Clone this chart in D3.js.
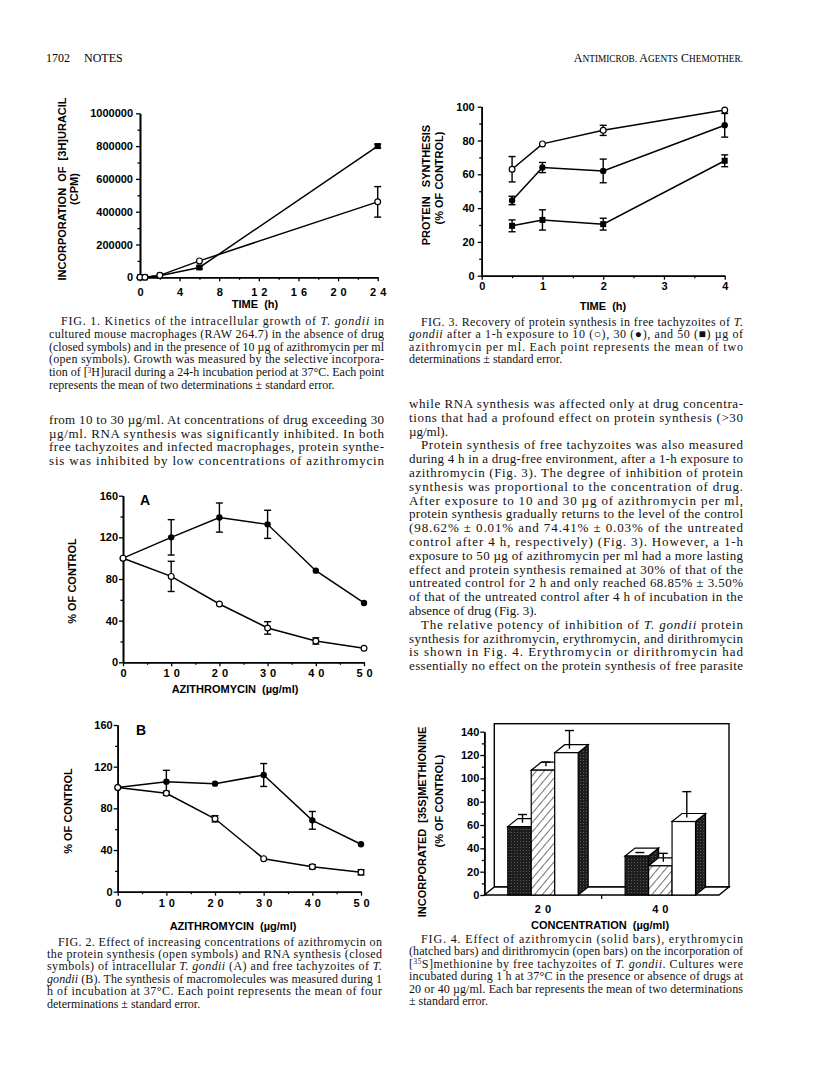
<!DOCTYPE html>
<html><head><meta charset="utf-8">
<script src="https://cdn.jsdelivr.net/npm/d3@7/dist/d3.min.js"></script>
<style>body{margin:0;background:#fff}svg{display:block}</style>
</head><body>
<svg id="page" width="816" height="1089"></svg>
<script>
// ---------------- DATA ----------------
// Fig 1
const fig1Time = [0, 0.5, 2, 6, 24];
const fig1Closed = [0, 0, 10000, 60000, 800000];
const fig1ClosedErr = [0, 0, 0, 8000, 12000];
const fig1Open = [0, 0, 12000, 100000, 460000];
const fig1OpenErr = [0, 0, 0, 0, 93000];
const fig1XTicks = [0, 4, 8, 12, 16, 20, 24];
const fig1XMinor = [2, 6, 10, 14, 18, 22];
const fig1YTicks = [0, 200000, 400000, 600000, 800000, 1000000];
const fig1YMinor = [100000, 300000, 500000, 700000, 900000];
// Fig 3
const fig3Time = [0.5, 1, 2, 4];
const fig3Open10 = [63, 78, 86, 98];
const fig3Open10Err = [7.5, 0, 3, 0];
const fig3Closed30 = [44.5, 64, 62, 89];
const fig3Closed30Err = [2.5, 3, 7, 7];
const fig3Square50 = [29.5, 33, 30.5, 68];
const fig3Square50Err = [3.5, 6, 3.5, 3.5];
const fig3XTicks = [0, 1, 2, 3, 4];
const fig3XMinor = [0.5, 1.5, 2.5, 3.5];
const fig3YTicks = [0, 20, 40, 60, 80, 100];
const fig3YMinor = [10, 30, 50, 70, 90];
// Fig 2
const fig2Conc = [0, 10, 20, 30, 40, 50];
const fig2ARna = [100, 120, 139, 132.5, 88, 57];
const fig2ARnaErr = [0, 17, 14, 13.5, 0, 0];
const fig2AProt = [100, 82.5, 56, 33, 20.5, 13.5];
const fig2AProtErr = [0, 14.5, 0, 6, 3, 0];
const fig2BRna = [100, 105.5, 103.7, 112, 68.5, 45.5];
const fig2BRnaErr = [0, 11, 0, 11, 8.5, 0];
const fig2BProt = [100, 94.5, 70, 31.7, 24, 18.6];
const fig2BProtErr = [0, 2, 3, 0, 2, 2.5];
const fig2XTicks = [0, 10, 20, 30, 40, 50];
const fig2XMinor = [5, 15, 25, 35, 45];
const fig2YTicks = [0, 40, 80, 120, 160];
const fig2YMinor = [20, 60, 100, 140];
// Fig 4
const fig4Conc = ["20", "40"];
const fig4Drugs = ["azithromycin", "erythromycin", "dirithromycin"];
const fig4Azithro = [58.6, 33.4];
const fig4AzithroErr = [10.4, 3];
const fig4Erythro = [107, 25];
const fig4ErythroErr = [7, 10.7];
const fig4Dirithro = [122, 63];
const fig4DirithroErr = [19, 25.6];
const fig4YTicks = [0, 20, 40, 60, 80, 100, 120, 140];
const fig4YMinor = [10, 30, 50, 70, 90, 110, 130];

// ---------------- TEXT ----------------
const fig1Caption = [
 {t:"FIG. 1. Kinetics of the intracellular growth of *T. gondii* in", ind:12},
 {t:"cultured mouse macrophages (RAW 264.7) in the absence of drug"},
 {t:"(closed symbols) and in the presence of 10 µg of azithromycin per ml"},
 {t:"(open symbols). Growth was measured by the selective incorpora-"},
 {t:"tion of [^3^H]uracil during a 24-h incubation period at 37°C. Each point"},
 {t:"represents the mean of two determinations ± standard error.", last:true}
];
const leftBody = [
 {t:"from 10 to 30 µg/ml. At concentrations of drug exceeding 30"},
 {t:"µg/ml. RNA synthesis was significantly inhibited. In both"},
 {t:"free tachyzoites and infected macrophages, protein synthe-"},
 {t:"sis was inhibited by low concentrations of azithromycin"}
];
const fig2Caption = [
 {t:"FIG. 2. Effect of increasing concentrations of azithromycin on", ind:11},
 {t:"the protein synthesis (open symbols) and RNA synthesis (closed"},
 {t:"symbols) of intracellular *T. gondii* (A) and free tachyzoites of *T.*"},
 {t:"*gondii* (B). The synthesis of macromolecules was measured during 1"},
 {t:"h of incubation at 37°C. Each point represents the mean of four"},
 {t:"determinations ± standard error.", last:true}
];
const fig3Caption = [
 {t:"FIG. 3. Recovery of protein synthesis in free tachyzoites of *T.*", ind:12},
 {t:"*gondii* after a 1-h exposure to 10 (○), 30 (●), and 50 (■) µg of"},
 {t:"azithromycin per ml. Each point represents the mean of two"},
 {t:"determinations ± standard error.", last:true}
];
const rightBody = [
 {t:"while RNA synthesis was affected only at drug concentra-"},
 {t:"tions that had a profound effect on protein synthesis (>30"},
 {t:"µg/ml).", last:true},
 {t:"Protein synthesis of free tachyzoites was also measured", ind:12},
 {t:"during 4 h in a drug-free environment, after a 1-h exposure to"},
 {t:"azithromycin (Fig. 3). The degree of inhibition of protein"},
 {t:"synthesis was proportional to the concentration of drug."},
 {t:"After exposure to 10 and 30 µg of azithromycin per ml,"},
 {t:"protein synthesis gradually returns to the level of the control"},
 {t:"(98.62% ± 0.01% and 74.41% ± 0.03% of the untreated"},
 {t:"control after 4 h, respectively) (Fig. 3). However, a 1-h"},
 {t:"exposure to 50 µg of azithromycin per ml had a more lasting"},
 {t:"effect and protein synthesis remained at 30% of that of the"},
 {t:"untreated control for 2 h and only reached 68.85% ± 3.50%"},
 {t:"of that of the untreated control after 4 h of incubation in the"},
 {t:"absence of drug (Fig. 3).", last:true},
 {t:"The relative potency of inhibition of *T. gondii* protein", ind:12},
 {t:"synthesis for azithromycin, erythromycin, and dirithromycin"},
 {t:"is shown in Fig. 4. Erythromycin or dirithromycin had"},
 {t:"essentially no effect on the protein synthesis of free parasite"}
];
const fig4Caption = [
 {t:"FIG. 4. Effect of azithromycin (solid bars), erythromycin", ind:12},
 {t:"(hatched bars) and dirithromycin (open bars) on the incorporation of"},
 {t:"[^35^S]methionine by free tachyzoites of *T. gondii*. Cultures were"},
 {t:"incubated during 1 h at 37°C in the presence or absence of drugs at"},
 {t:"20 or 40 µg/ml. Each bar represents the mean of two determinations"},
 {t:"± standard error.", last:true}
];

// ---------------- DRAWING ----------------
const svg = d3.select("#page");
const SANS = "'Liberation Sans', Arial, Helvetica, sans-serif";
const SERIF = "'Liberation Serif', 'Times New Roman', serif";

function addLine(x, y, str, size, width) {
  const t = svg.append("text").attr("x", x).attr("y", y)
    .attr("font-family", SERIF).attr("font-size", size).attr("fill", "#111");
  if (width) t.attr("textLength", width).attr("lengthAdjust", "spacing");
  const parts = str.split(/(\*[^*]+\*|\^[^^]+\^)/g).filter(s => s.length);
  let back = 0;
  parts.forEach(p => {
    let ts;
    if (p[0] === "*") ts = t.append("tspan").attr("font-style", "italic").text(p.slice(1, -1));
    else if (p[0] === "^") { t.append("tspan").attr("font-size", size * 0.6).attr("dy", -size * 0.3).text(p.slice(1, -1)); back = size * 0.3; return; }
    else ts = t.append("tspan").text(p);
    if (back) { ts.attr("dy", back); back = 0; }
  });
}
function para(lines, x0, x1, y0, lh, size) {
  lines.forEach((l, i) => {
    const ind = l.ind || 0;
    addLine(x0 + ind, y0 + i * lh, l.t, size, l.last ? null : (x1 - x0 - ind));
  });
}

// header
svg.append("text").attr("x", 46).attr("y", 62).attr("font-family", SERIF).attr("font-size", 12).text("1702");
svg.append("text").attr("x", 84).attr("y", 62).attr("font-family", SERIF).attr("font-size", 12).text("NOTES");
(function(){
  const t = svg.append("text").attr("x", 743).attr("y", 62).attr("text-anchor", "end").attr("font-family", SERIF).attr("font-size", 12);
  const words = [["A","NTIMICROB."],["A","GENTS"],["C","HEMOTHER."]];
  words.forEach((w, i) => {
    t.append("tspan").attr("font-size", 12).text((i ? " " : "") + w[0]);
    t.append("tspan").attr("font-size", 9.3).text(w[1]);
  });
})();

// captions & body
para(fig1Caption, 49, 384, 325, 12.8, 12);
para(leftBody, 49, 384, 424, 13.6, 13);
para(fig2Caption, 47, 382, 945.5, 12.4, 12);
para(fig3Caption, 409, 743, 325.5, 12.6, 12);
para(rightBody, 409, 743, 408, 13.8, 13);
para(fig4Caption, 409, 743, 943, 12.4, 12);

// axis helpers
function styleAxis(g) {
  g.selectAll(".domain").attr("stroke", "#000").attr("stroke-width", 1.6);
  g.selectAll(".tick line").attr("stroke", "#000").attr("stroke-width", 1.3);
  g.selectAll("text").attr("font-family", SANS).attr("font-weight", "bold")
    .attr("font-size", 11).attr("fill", "#000");
}
function spaced(g) {
  g.selectAll(".tick text").each(function(d) {
    if (+d >= 10) d3.select(this).style("letter-spacing", "4px").attr("dx", 2);
  });
}
function axes(c) {
  const g = svg.append("g");
  const y0 = c.y.range()[0], x0 = c.x.range()[0];
  g.append("g").attr("transform", `translate(0,${y0})`)
    .call(d3.axisBottom(c.x).tickValues(c.xMinor).tickSize(2.5).tickFormat("").tickSizeOuter(0)).call(styleAxis);
  const xa = g.append("g").attr("transform", `translate(0,${y0})`)
    .call(d3.axisBottom(c.x).tickValues(c.xMajor).tickSize(4).tickPadding(c.xPad).tickSizeOuter(0).tickFormat(d3.format("d"))).call(styleAxis);
  if (c.xSpaced) spaced(xa);
  g.append("g").attr("transform", `translate(${x0},0)`)
    .call(d3.axisLeft(c.y).tickValues(c.yMinor).tickSize(2.5).tickFormat("").tickSizeOuter(0)).call(styleAxis);
  g.append("g").attr("transform", `translate(${x0},0)`)
    .call(d3.axisLeft(c.y).tickValues(c.yMajor).tickSize(4).tickPadding(c.yPad).tickSizeOuter(0).tickFormat(d3.format("d"))).call(styleAxis);
}
function boldText(x, y, s, opts = {}) {
  const t = svg.append("text").attr("x", x).attr("y", y).attr("font-family", SANS)
    .attr("font-weight", "bold").attr("font-size", opts.size || 11).attr("fill", "#000")
    .attr("text-anchor", opts.anchor || "middle").style("white-space", "pre").text(s);
  if (opts.rot) t.attr("transform", `rotate(-90,${x},${y})`).attr("dominant-baseline", "central");
  return t;
}
function series(x, y, xs, ys, errs, marker) {
  const g = svg.append("g");
  const pts = xs.map((d, i) => [d, ys[i], errs ? errs[i] : 0]);
  g.append("path").datum(pts).attr("fill", "none").attr("stroke", "#000").attr("stroke-width", 1.5)
    .attr("d", d3.line().x(d => x(d[0])).y(d => y(d[1])));
  return {g, pts, x, y, marker};
}
function finish(s) {
  const {g, pts, x, y, marker} = s;
  pts.filter(d => d[2] > 0).forEach(d => {
    const cx = x(d[0]), t = y(d[1] + d[2]), b = y(Math.max(0, d[1] - d[2]));
    g.append("line").attr("x1", cx).attr("x2", cx).attr("y1", t).attr("y2", b).attr("stroke", "#000").attr("stroke-width", 1.4);
    [t, b].forEach(yy => g.append("line").attr("x1", cx - 3.5).attr("x2", cx + 3.5).attr("y1", yy).attr("y2", yy).attr("stroke", "#000").attr("stroke-width", 1.4));
  });
  pts.forEach(d => {
    const cx = x(d[0]), cy = y(d[1]);
    if (marker === "open") g.append("circle").attr("cx", cx).attr("cy", cy).attr("r", 2.9).attr("fill", "#fff").attr("stroke", "#000").attr("stroke-width", 1.2);
    else if (marker === "dot") g.append("circle").attr("cx", cx).attr("cy", cy).attr("r", 3.2).attr("fill", "#000");
    else g.append("rect").attr("x", cx - 3).attr("y", cy - 3).attr("width", 6).attr("height", 6).attr("fill", "#000");
  });
}

// ---- Fig 1 ----
{
  const x = d3.scaleLinear().domain([0, 24]).range([140, 377.7]);
  const y = d3.scaleLinear().domain([0, 1000000]).range([277.3, 113.3]);
  axes({x, y, xMajor: fig1XTicks, xMinor: fig1XMinor, yMajor: fig1YTicks, yMinor: fig1YMinor, xPad: 7, yPad: 3, xSpaced: true});
  const a = series(x, y, fig1Time, fig1Closed, fig1ClosedErr, "square");
  const b = series(x, y, fig1Time, fig1Open, fig1OpenErr, "open");
  finish(a); finish(b);
  boldText(255, 308, "TIME  (h)");
  boldText(62, 189, "INCORPORATION  OF  [3H]URACIL", {rot: true});
  boldText(73.5, 189, "(CPM)", {rot: true});
}
// ---- Fig 3 ----
{
  const x = d3.scaleLinear().domain([0, 4]).range([481.7, 724.7]);
  const y = d3.scaleLinear().domain([0, 100]).range([275.7, 106.7]);
  axes({x, y, xMajor: fig3XTicks, xMinor: fig3XMinor, yMajor: fig3YTicks, yMinor: fig3YMinor, xPad: 2.5, yPad: 3});
  const s1 = series(x, y, fig3Time, fig3Square50, fig3Square50Err, "square");
  const s2 = series(x, y, fig3Time, fig3Closed30, fig3Closed30Err, "dot");
  const s3 = series(x, y, fig3Time, fig3Open10, fig3Open10Err, "open");
  finish(s1); finish(s2); finish(s3);
  boldText(603, 309.5, "TIME  (h)");
  boldText(426, 185, "PROTEIN   SYNTHESIS", {rot: true});
  boldText(438.5, 178, "(% OF CONTROL)", {rot: true});
}
// ---- Fig 2A ----
{
  const x = d3.scaleLinear().domain([0, 50]).range([123, 364]);
  const y = d3.scaleLinear().domain([0, 160]).range([662.3, 495.7]);
  axes({x, y, xMajor: fig2XTicks, xMinor: fig2XMinor, yMajor: fig2YTicks, yMinor: fig2YMinor, xPad: 2.5, yPad: 1, xSpaced: true});
  const r = series(x, y, fig2Conc, fig2ARna, fig2ARnaErr, "dot");
  const p = series(x, y, fig2Conc, fig2AProt, fig2AProtErr, "open");
  finish(r); finish(p);
  boldText(140, 505, "A", {anchor: "start", size: 14});
  boldText(235, 693, "AZITHROMYCIN  (µg/ml)");
  boldText(72, 581, "% OF CONTROL", {rot: true});
}
// ---- Fig 2B ----
{
  const x = d3.scaleLinear().domain([0, 50]).range([117.7, 361]);
  const y = d3.scaleLinear().domain([0, 160]).range([891.7, 725]);
  axes({x, y, xMajor: fig2XTicks, xMinor: fig2XMinor, yMajor: fig2YTicks, yMinor: fig2YMinor, xPad: 4, yPad: 1, xSpaced: true});
  const r = series(x, y, fig2Conc, fig2BRna, fig2BRnaErr, "dot");
  const p = series(x, y, fig2Conc, fig2BProt, fig2BProtErr, "open");
  finish(r); finish(p);
  boldText(136, 735, "B", {anchor: "start", size: 14});
  boldText(233, 930, "AZITHROMYCIN  (µg/ml)");
  boldText(68, 811, "% OF CONTROL", {rot: true});
}
// ---- Fig 4 (pseudo-3D bars) ----
{
  const DX = 10, DY = -8;
  const x0 = 484.3, x1 = 719;
  const y = d3.scaleLinear().domain([0, 140]).range([895, 731.7]);
  const xg = d3.scaleBand().domain(fig4Conc).range([x0, x1]).paddingInner(0.4).paddingOuter(0.2);
  const xs = d3.scaleBand().domain(fig4Drugs).range([0, xg.bandwidth()]);
  const defs = svg.append("defs");
  const hp = defs.append("pattern").attr("id", "hatch").attr("patternUnits", "userSpaceOnUse")
    .attr("width", 6).attr("height", 6).attr("patternTransform", "rotate(40)");
  hp.append("rect").attr("width", 6).attr("height", 6).attr("fill", "#fff");
  hp.append("line").attr("x1", 0).attr("y1", 0).attr("x2", 0).attr("y2", 6).attr("stroke", "#000").attr("stroke-width", 1.1);
  const sp = defs.append("pattern").attr("id", "stip").attr("patternUnits", "userSpaceOnUse").attr("width", 3).attr("height", 3);
  sp.append("rect").attr("width", 3).attr("height", 3).attr("fill", "#1e1e1e");
  sp.append("rect").attr("x", 1).attr("y", 1).attr("width", 1).attr("height", 1).attr("fill", "#5a5a5a");

  const g = svg.append("g");
  const yb = y(0), yt = y(140);
  // back wall and floor
  g.append("rect").attr("x", x0 + DX).attr("y", yt + DY).attr("width", x1 - x0).attr("height", yb - yt)
    .attr("fill", "#fff").attr("stroke", "#000").attr("stroke-width", 1.4);
  g.append("path").attr("d", `M${x0},${yb}L${x0 + DX},${yb + DY}L${x1 + DX},${yb + DY}L${x1},${yb}Z`)
    .attr("fill", "#fff").attr("stroke", "#000").attr("stroke-width", 1.4);

  const vals = {azithromycin: fig4Azithro, erythromycin: fig4Erythro, dirithromycin: fig4Dirithro};
  const errs = {azithromycin: fig4AzithroErr, erythromycin: fig4ErythroErr, dirithromycin: fig4DirithroErr};
  const fills = {azithromycin: "url(#stip)", erythromycin: "url(#hatch)", dirithromycin: "#fff"};
  const errMarks = [];
  fig4Conc.forEach((c, ci) => {
    fig4Drugs.forEach(dr => {
      const v = vals[dr][ci];
      const bx = xg(c) + xs(dr), w = xs.bandwidth(), ty = y(v);
      g.append("path").attr("d", `M${bx + w},${ty}L${bx + w + DX},${ty + DY}L${bx + w + DX},${yb + DY}L${bx + w},${yb}Z`)
        .attr("fill", "url(#stip)").attr("stroke", "#000").attr("stroke-width", 1.2);
      g.append("path").attr("d", `M${bx},${ty}L${bx + DX},${ty + DY}L${bx + w + DX},${ty + DY}L${bx + w},${ty}Z`)
        .attr("fill", "#fff").attr("stroke", "#000").attr("stroke-width", 1.2);
      g.append("rect").attr("x", bx).attr("y", ty).attr("width", w).attr("height", yb - ty)
        .attr("fill", fills[dr]).attr("stroke", "#000").attr("stroke-width", 1.2);
      errMarks.push([bx + w / 2 + 3, v, errs[dr][ci]]);
    });
  });
  errMarks.forEach(([cx, v, e]) => {
    const t = y(v + e), b = y(v) + DY / 2;
    g.append("line").attr("x1", cx).attr("x2", cx).attr("y1", t).attr("y2", b).attr("stroke", "#000").attr("stroke-width", 1.4);
    g.append("line").attr("x1", cx - 4.5).attr("x2", cx + 4.5).attr("y1", t).attr("y2", t).attr("stroke", "#000").attr("stroke-width", 1.4);
  });
  // y axis
  svg.append("g").attr("transform", `translate(${x0},0)`)
    .call(d3.axisLeft(y).tickValues(fig4YMinor).tickSize(2.5).tickFormat("").tickSizeOuter(0)).call(styleAxis);
  svg.append("g").attr("transform", `translate(${x0},0)`)
    .call(d3.axisLeft(y).tickValues(fig4YTicks).tickSize(4).tickPadding(1).tickSizeOuter(0).tickFormat(d3.format("d"))).call(styleAxis);
  // x axis labels and middle tick
  const xa = svg.append("g").attr("transform", `translate(0,${yb})`)
    .call(d3.axisBottom(xg).tickSize(0).tickPadding(10)).call(styleAxis);
  xa.select(".domain").remove();
  xa.selectAll(".tick text").style("letter-spacing", "4px").attr("dx", 2);
  const mid = (xg("20") + xg.bandwidth() + xg("40")) / 2;
  svg.append("line").attr("x1", mid).attr("x2", mid).attr("y1", yb).attr("y2", yb + 4).attr("stroke", "#000").attr("stroke-width", 1.3);
  boldText(600, 929, "CONCENTRATION  (µg/ml)");
  boldText(422, 822, "INCORPORATED  [35S]METHIONINE", {rot: true});
  boldText(438.5, 801, "(% OF CONTROL)", {rot: true});
}
</script>
</body></html>
